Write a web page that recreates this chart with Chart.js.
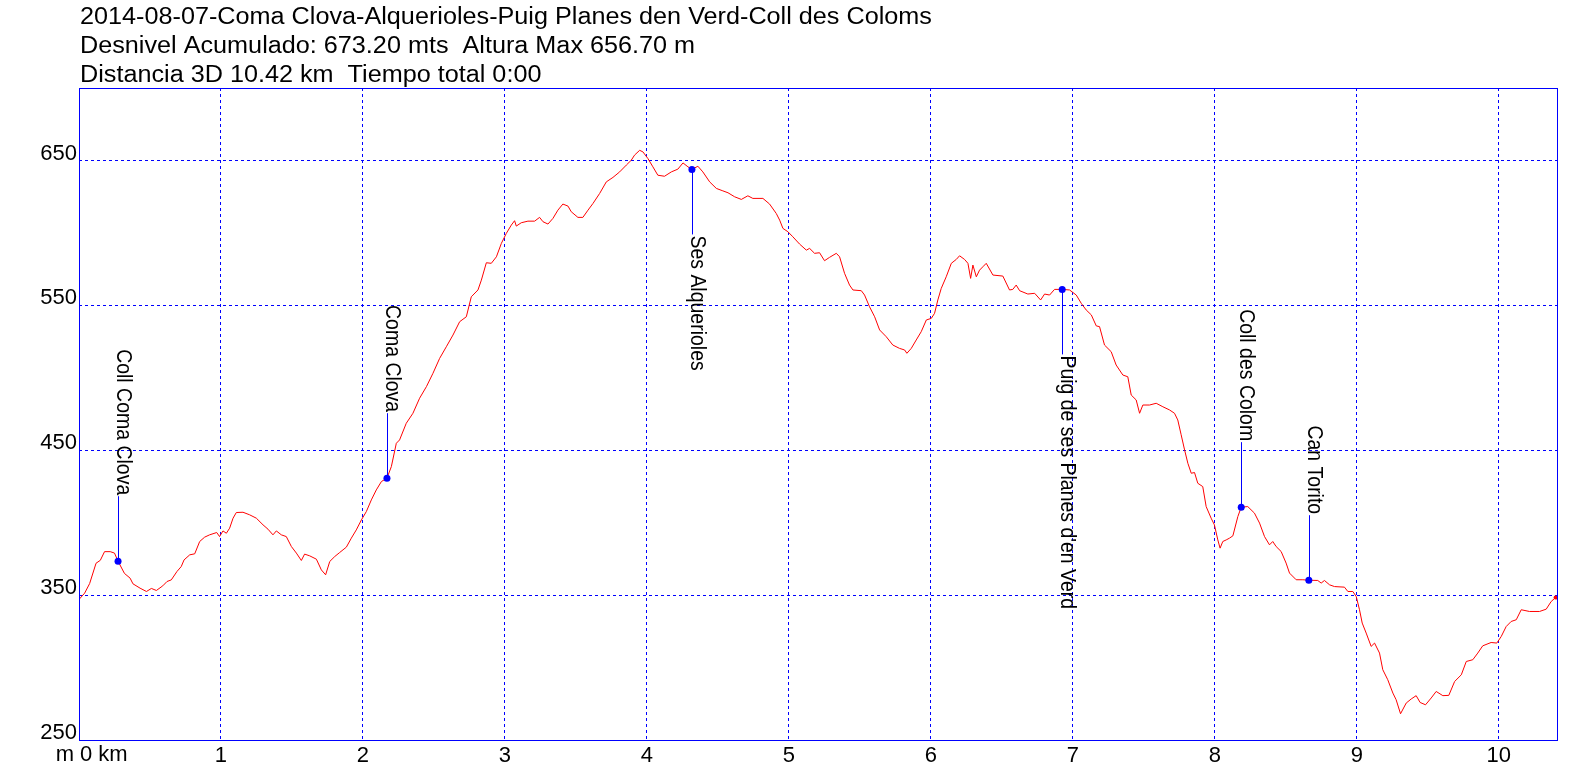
<!DOCTYPE html>
<html>
<head>
<meta charset="utf-8">
<script src="https://cdn.jsdelivr.net/npm/chart.js@4.4.1/dist/chart.umd.min.js"></script>
<style>
  html, body { margin: 0; padding: 0; background: #fff; }
  canvas { display: block; }
</style>
</head>
<body>
<canvas id="profile-chart" width="1596" height="778"></canvas>
<script>
// Perfil de altura - ruta 2014-08-07

const titleLines = [
    "2014-08-07-Coma Clova-Alquerioles-Puig Planes den Verd-Coll des Coloms",
    "Desnivel Acumulado: 673.20 mts  Altura Max 656.70 m",
    "Distancia 3D 10.42 km  Tiempo total 0:00",
];

// distance (km) and elevation (m)
const distKm = [
    0.00, 0.04, 0.075, 0.12, 0.15, 0.18, 0.22, 0.25, 0.275, 0.32, 0.36, 0.38, 0.43, 0.475, 0.51, 0.545,
    0.59, 0.62, 0.65, 0.69, 0.72, 0.74, 0.78, 0.815, 0.85, 0.885, 0.92, 0.97, 0.99, 1.014, 1.038, 1.061,
    1.085, 1.108, 1.155, 1.202, 1.249, 1.296, 1.331, 1.366, 1.39, 1.425, 1.46, 1.496, 1.531, 1.566, 1.589, 1.625,
    1.672, 1.707, 1.737, 1.766, 1.801, 1.836, 1.883, 1.918, 1.953, 1.989, 2.024, 2.059, 2.094, 2.13, 2.169, 2.2,
    2.235, 2.258, 2.305, 2.352, 2.399, 2.447, 2.493, 2.54, 2.587, 2.634, 2.681, 2.728, 2.763, 2.81, 2.834, 2.869,
    2.904, 2.94, 2.975, 3.01, 3.045, 3.068, 3.08, 3.115, 3.162, 3.209, 3.244, 3.268, 3.303, 3.338, 3.373, 3.408,
    3.444, 3.467, 3.514, 3.549, 3.585, 3.62, 3.667, 3.714, 3.761, 3.808, 3.855, 3.89, 3.913, 3.949, 3.972, 4.007,
    4.042, 4.077, 4.124, 4.172, 4.218, 4.254, 4.289, 4.317, 4.359, 4.394, 4.442, 4.489, 4.535, 4.571, 4.618, 4.665,
    4.711, 4.746, 4.817, 4.864, 4.911, 4.935, 4.958, 4.993, 5.028, 5.075, 5.123, 5.146, 5.181, 5.216, 5.251, 5.286,
    5.334, 5.357, 5.392, 5.427, 5.451, 5.51, 5.533, 5.568, 5.604, 5.639, 5.686, 5.732, 5.779, 5.815, 5.831, 5.862,
    5.897, 5.932, 5.968, 6.003, 6.026, 6.049, 6.073, 6.108, 6.144, 6.179, 6.202, 6.237, 6.261, 6.28, 6.296, 6.32,
    6.343, 6.366, 6.39, 6.437, 6.507, 6.554, 6.577, 6.601, 6.625, 6.683, 6.731, 6.773, 6.801, 6.836, 6.871, 6.925,
    6.977, 7.024, 7.059, 7.094, 7.13, 7.165, 7.188, 7.223, 7.27, 7.305, 7.352, 7.387, 7.411, 7.446, 7.47, 7.493,
    7.54, 7.587, 7.634, 7.681, 7.716, 7.739, 7.762, 7.787, 7.81, 7.834, 7.857, 7.88, 7.915, 7.939, 7.974, 7.997,
    8.021, 8.037, 8.056, 8.08, 8.103, 8.127, 8.162, 8.186, 8.232, 8.279, 8.315, 8.35, 8.385, 8.408, 8.432, 8.467,
    8.502, 8.526, 8.573, 8.62, 8.662, 8.725, 8.749, 8.772, 8.808, 8.843, 8.913, 8.937, 8.972, 8.996, 9.019, 9.038,
    9.066, 9.101, 9.125, 9.16, 9.183, 9.218, 9.254, 9.277, 9.308, 9.348, 9.383, 9.418, 9.446, 9.484, 9.524, 9.559,
    9.606, 9.648, 9.689, 9.736, 9.771, 9.817, 9.852, 9.887, 9.946, 9.986, 10.017, 10.052, 10.087, 10.123, 10.158, 10.216,
    10.287, 10.334, 10.369, 10.40,
];
const elevM = [
    347, 351.4, 358, 372, 374, 380, 380, 379, 373.4, 365, 361.7, 357.8, 354.8, 352.5, 354.6, 353.2,
    356.4, 359.4, 360.5, 366.3, 369.7, 374.3, 377.8, 378.5, 387, 390, 391.6, 393.2, 390.4, 394.3, 392.7, 396.2,
    403.1, 407, 407.2, 405.4, 403.1, 398.5, 395.5, 391.6, 394.3, 391.6, 390.4, 383.5, 379, 373.9, 378.3, 377.1,
    374.8, 367.4, 364, 373.2, 376.6, 379.4, 383.1, 389.3, 395, 401.9, 407.7, 415.7, 422.6, 428.4, 430.7, 438.7,
    454.8, 457.1, 468.6, 475.5, 485.9, 493.9, 503.1, 513.4, 521.4, 529.5, 538.7, 542.1, 555.9, 560.6, 567.4, 579.4,
    579, 583.5, 592.8, 599.7, 605.4, 608.4, 604.7, 607, 608.1, 608.1, 610.7, 607.7, 606.1, 610, 615.7, 619.9,
    618.5, 614.6, 610.7, 610.7, 615.7, 620.3, 627.2, 635.2, 638.3, 642.1, 646.8, 650.2, 653.7, 657, 655.9, 651.3,
    645.6, 639.8, 639.1, 642.1, 644, 648.3, 645.6, 643.8, 646, 642.1, 635.2, 630.7, 629, 627.7, 624.9, 623.1,
    625.6, 623.8, 623.8, 619.9, 613.4, 608.8, 603.1, 600.8, 597.3, 592.3, 588.1, 589.3, 585.9, 586.3, 580.8, 583.1,
    585.9, 583.5, 572.1, 564, 560.6, 560.1, 557.1, 549, 542.1, 533, 528.3, 522.6, 520.3, 519.2, 516.9, 520.3,
    526.1, 531.8, 539.9, 541, 544.5, 553.7, 561.7, 569.7, 579, 581.7, 584.2, 581.7, 579, 568.6, 577.8, 569.7,
    574.3, 576.6, 579, 570.9, 570.2, 560.6, 561, 564, 560.1, 557.8, 558.3, 553.7, 557.8, 557.1, 561, 561,
    560.6, 557.1, 551.4, 546.8, 543.4, 535.8, 535.3, 522.6, 518, 508.8, 501.9, 500.7, 488.1, 484.7, 475.5, 481.2,
    481.2, 482.4, 480, 477.8, 475.5, 470.9, 461, 450.2, 441, 434.1, 434.6, 427.2, 424.9, 411.1, 403.1, 398.5,
    388.1, 382.4, 387, 388.1, 389.3, 390.9, 404.2, 410.7, 411.1, 406.6, 399.7, 390.4, 384.7, 387, 383.5, 380.1,
    372.1, 365.2, 360.6, 360.6, 360.3, 360.1, 358.3, 360.1, 357.1, 355.9, 355.5, 352.5, 352.5, 349, 339.9, 330.7,
    323.8, 314.6, 316.9, 310, 298.5, 291.6, 282.4, 277.8, 268.1, 275.5, 278.3, 280.6, 275.9, 274.3, 279, 283.5,
    280.6, 280.8, 290.4, 295, 304.2, 305.4, 310, 315, 317.3, 316.9, 321.4, 328.3, 331.8, 333, 339.9, 338.7,
    338.7, 340.3, 345.6, 348.3,
];

// waypoints
const wpNames = ["Coll Coma Clova", "Coma Clova", "Ses Alquerioles", "Puig de ses Planes d'en Verd", "Coll des Colom", "Can Torito"];
const wpKm = [0.275, 2.169, 4.317, 6.925, 8.186, 8.662];
const wpElev = [373.4, 430.7, 643.8, 561, 410.7, 360.3];

const xTicks = [0, 1, 2, 3, 4, 5, 6, 7, 8, 9, 10];
const yTicks = [250, 350, 450, 550, 650];

const colors = {
    blue: "#0000ff",
    red: "#ff0000",
    text: "#000000",
};

const FONT = "'Liberation Sans', Arial, sans-serif";
const stemLen = 65;        // px from waypoint dot to its label
const labelSquash = 0.885; // waypoint labels are a bit narrow in the original
const titleStretch = 1.096;

const profileDecor = {
    id: "profileDecor",
    afterDatasetsDraw(chart) {
        const { ctx, chartArea: a, scales: { x, y } } = chart;
        ctx.save();

        // frame
        ctx.strokeStyle = colors.blue;
        ctx.lineWidth = 1;
        ctx.setLineDash([]);
        ctx.strokeRect(a.left + 0.5, a.top + 0.5, a.right - a.left, a.bottom - a.top);

        // waypoint stems + rotated names
        ctx.font = "22px " + FONT;
        ctx.fillStyle = colors.text;
        ctx.textBaseline = "alphabetic";
        ctx.textAlign = "left";
        wpNames.forEach((name, i) => {
            const px = Math.round(x.getPixelForValue(wpKm[i]));
            const py = y.getPixelForValue(wpElev[i]);
            const w = ctx.measureText(name).width * labelSquash;
            const up = py - stemLen - w > a.top;
            const end = up ? py - stemLen : py + stemLen;

            ctx.beginPath();
            ctx.moveTo(px + 0.5, py);
            ctx.lineTo(px + 0.5, end);
            ctx.stroke();

            ctx.save();
            ctx.translate(px - 1, up ? end - 1 - w : end + 1);
            ctx.rotate(Math.PI / 2);
            ctx.scale(labelSquash, 1);
            ctx.fillText(name, 0, 0);
            ctx.restore();
        });
        ctx.restore();
    },
    afterDraw(chart) {
        const { ctx, chartArea: a } = chart;
        ctx.save();
        ctx.fillStyle = colors.text;
        ctx.textBaseline = "alphabetic";

        // title block
        ctx.font = "23px " + FONT;
        ctx.textAlign = "left";
        const baselines = [24, 53, 81.5];
        titleLines.forEach((line, i) => {
            ctx.save();
            ctx.translate(a.left + 1, baselines[i]);
            ctx.scale(titleStretch, 1);
            ctx.fillText(line, 0, 0);
            ctx.restore();
        });

        // axis units at the origin
        ctx.font = "22px " + FONT;
        ctx.textAlign = "right";
        ctx.fillText("m", a.left - 5, 761);
        ctx.textAlign = "left";
        ctx.fillText("0 km", a.left + 1, 761);
        ctx.restore();
    },
};

Chart.defaults.font.family = FONT;

new Chart(document.getElementById("profile-chart"), {
    type: "line",
    data: {
        datasets: [
            {
                type: "scatter",
                label: "Waypoints",
                data: wpKm.map((k, i) => ({ x: k, y: wpElev[i] })),
                backgroundColor: colors.blue,
                borderColor: colors.blue,
                pointRadius: 3.5,
                pointBorderWidth: 0,
                showLine: false,
            },
            {
                label: "Altura",
                data: distKm.map((k, i) => ({ x: k, y: elevM[i] })),
                borderColor: colors.red,
                borderWidth: 1,
                backgroundColor: colors.red,
                fill: false,
                tension: 0,
                pointRadius: c => (c.dataIndex === distKm.length - 1 ? 2 : 0),
                pointBorderWidth: 0,
                pointBackgroundColor: colors.red,
            },
        ],
    },
    options: {
        responsive: false,
        animation: false,
        devicePixelRatio: 1,
        layout: { padding: { top: 88, right: 39, left: 0, bottom: 0 } },
        plugins: {
            legend: { display: false },
            tooltip: { enabled: false },
            title: { display: false },
        },
        scales: {
            x: {
                type: "linear",
                min: 0,
                max: 10.41,
                afterBuildTicks: s => { s.ticks = xTicks.map(v => ({ value: v })); },
                afterFit: s => { s.height = 38; },
                grid: { color: colors.blue, lineWidth: 1, drawTicks: false },
                border: { display: false, dash: [3, 3] },
                ticks: {
                    color: colors.text,
                    font: { size: 22 },
                    padding: 3,
                    maxRotation: 0,
                    autoSkip: false,
                    callback: v => (v === 0 ? "" : String(v)),
                },
            },
            y: {
                type: "linear",
                min: 250,
                max: 700,
                afterBuildTicks: s => { s.ticks = yTicks.map(v => ({ value: v })); },
                afterFit: s => { s.width = 79; },
                grid: { color: colors.blue, lineWidth: 1, drawTicks: false },
                border: { display: false, dash: [3, 3] },
                ticks: {
                    color: colors.text,
                    font: { size: 22 },
                    padding: 2,
                    labelOffset: -7,
                    autoSkip: false,
                },
            },
        },
    },
    plugins: [profileDecor],
});
</script>
</body>
</html>
